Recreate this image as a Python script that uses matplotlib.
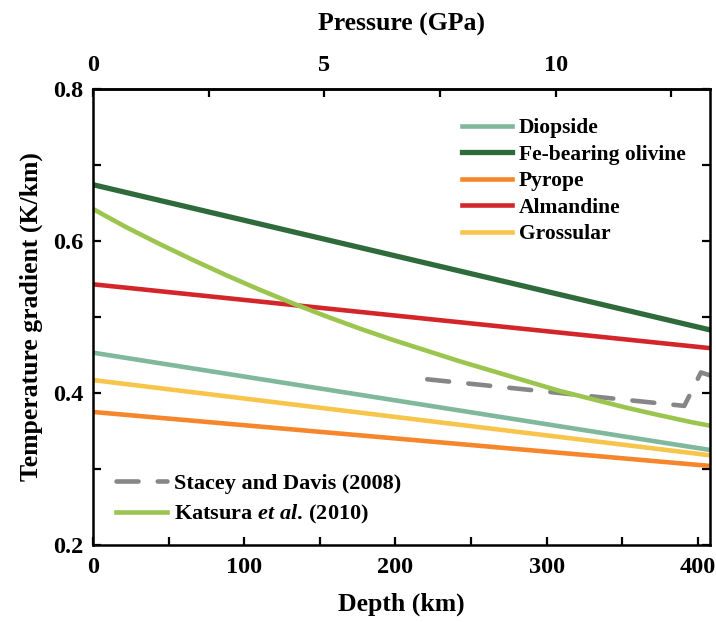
import matplotlib
matplotlib.use("Agg")
import matplotlib.pyplot as plt
from matplotlib.ticker import MultipleLocator, FixedLocator
import numpy as np

plt.rcParams['font.family'] = ['Liberation Serif', 'DejaVu Serif']
plt.rcParams['font.weight'] = 'bold'
plt.rcParams['mathtext.fontset'] = 'custom'
plt.rcParams['mathtext.rm'] = 'Liberation Serif:bold'
plt.rcParams['mathtext.it'] = 'Liberation Serif:italic:bold'

# Data
depth_ends = [0, 408]
diopside = [0.453, 0.325]
olivine = [0.674, 0.483]
pyrope = [0.375, 0.304]
almandine = [0.543, 0.459]
grossular = [0.417, 0.318]

katsura_depth = [0, 22, 44, 66, 88, 110, 132, 154, 176, 198, 220, 242, 264, 286,
                 308, 330, 352, 374, 396, 408]
katsura_val = [0.642, 0.618, 0.596, 0.575, 0.555, 0.536, 0.518, 0.501, 0.485, 0.470,
               0.456, 0.442, 0.429, 0.416, 0.403, 0.392, 0.381, 0.371, 0.3615, 0.357]

stacey_depth = [221, 391, 402, 410]
stacey_val = [0.418, 0.383, 0.427, 0.422]

pressure_ticks = [0, 5, 10]
km_per_gpa = 30.6

fig = plt.figure(figsize=(7.16, 6.22), dpi=100)
ax = fig.add_axes([0.130, 0.1238, 0.8616, 0.7332])

lw = 3.3
l_st, = ax.plot(stacey_depth, stacey_val, color='#868686', lw=lw, dashes=(4.8, 4.2),
                dash_capstyle='round', label='Stacey and Davis (2008)')
l_dio, = ax.plot(depth_ends, diopside, color='#7fb89b', lw=lw, label='Diopside')
l_oli, = ax.plot(depth_ends, olivine, color='#2f6a3b', lw=3.8, label='Fe-bearing olivine')
l_pyr, = ax.plot(depth_ends, pyrope, color='#f5862c', lw=lw, label='Pyrope')
l_alm, = ax.plot(depth_ends, almandine, color='#d3262a', lw=lw, label='Almandine')
l_gro, = ax.plot(depth_ends, grossular, color='#f8c54c', lw=lw, label='Grossular')
l_kat, = ax.plot(katsura_depth, katsura_val, color='#9cc54f', lw=lw,
                 solid_joinstyle='round',
                 label='Katsura $\\mathit{et\\ al.}\\,$(2010)')

ax.set_xlim(0, 408)
ax.set_ylim(0.2, 0.8)

ax.xaxis.set_major_locator(MultipleLocator(100))
ax.xaxis.set_minor_locator(MultipleLocator(50))
ax.yaxis.set_major_locator(MultipleLocator(0.2))
ax.yaxis.set_minor_locator(MultipleLocator(0.1))
ax.yaxis.set_major_formatter(plt.FuncFormatter(lambda v, p: f"{v:.1f}"))

tfs = 17.5
lfs = 18.5
for s in ax.spines.values():
    s.set_linewidth(1.8)
ax.tick_params(which='both', direction='in', length=6, width=1.6,
               top=False, right=True, labelsize=tfs)
ax.tick_params(axis='x', which='both', pad=9)
ax.tick_params(axis='y', which='both', pad=7)

ax.set_xlabel('Depth (km)', fontsize=lfs, fontweight='bold', labelpad=10)
ax.set_ylabel('Temperature gradient (K/km)', fontsize=lfs, fontweight='bold', labelpad=7)

sec = ax.secondary_xaxis('top', functions=(lambda d: d / km_per_gpa, lambda p: p * km_per_gpa))
sec.xaxis.set_major_locator(FixedLocator(pressure_ticks))
sec.xaxis.set_minor_locator(FixedLocator([2.5, 7.5, 12.5]))
sec.tick_params(which='both', direction='in', length=6, width=1.6, labelsize=tfs, pad=9)
sec.spines['top'].set_linewidth(1.8)
sec.set_xlabel('Pressure (GPa)', fontsize=lfs, fontweight='bold', labelpad=18)

leg1 = ax.legend(handles=[l_dio, l_oli, l_pyr, l_alm, l_gro], loc='upper left',
                 bbox_to_anchor=(462 / 716, 1 - 118 / 622), bbox_transform=fig.transFigure,
                 frameon=False, fontsize=15.5, handlelength=2.3, handletextpad=0.35,
                 labelspacing=0.3, borderpad=0, borderaxespad=0)
ax.add_artist(leg1)
leg2 = ax.legend(handles=[l_st, l_kat], loc='upper left',
                 bbox_to_anchor=(116 / 716, 1 - 473 / 622), bbox_transform=fig.transFigure,
                 frameon=False, fontsize=16, handlelength=2.3, handletextpad=0.3,
                 labelspacing=0.42, borderpad=0, borderaxespad=0)

fig.savefig('out.png', dpi=100)
